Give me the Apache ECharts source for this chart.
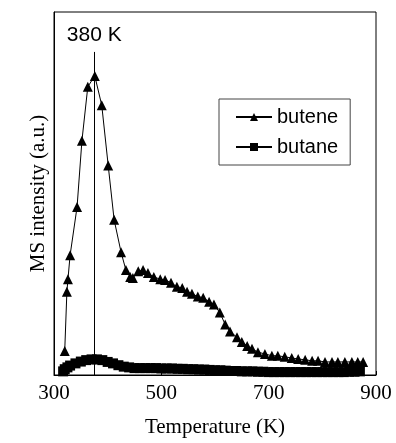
<!DOCTYPE html>
<html>
<head>
<meta charset="utf-8">
<script src="https://cdn.jsdelivr.net/npm/echarts@6/dist/echarts.min.js"></script>
<style>
  html, body { margin: 0; padding: 0; background: #fff; }
  #main { width: 396px; height: 443px; }
</style>
</head>
<body>
<div id="main"></div>
<script>
// temperatures (K) and MS intensity (a.u.)
var buteneT = [320, 324, 326, 330, 343, 352, 363, 376, 389, 401, 412, 425, 434, 442, 447, 457, 466, 475, 486, 498,
  507, 518, 529, 539, 548, 557, 568, 578, 589, 598, 609, 619, 628, 641, 650, 660, 669, 680, 693, 706,
  717, 730, 743, 755, 768, 781, 792, 805, 818, 829, 842, 855, 866, 876];
var buteneI = [6.6, 22.9, 26.4, 33.0, 46.3, 64.5, 79.4, 82.4, 74.3, 57.7, 42.8, 33.8, 28.9, 27.0, 26.7, 28.6, 28.9, 28.1, 27.0, 26.4,
  26.2, 25.4, 24.3, 24.0, 22.9, 22.4, 21.6, 21.3, 20.2, 19.4, 17.2, 13.9, 12.0, 10.4, 9.1, 8.0, 7.2, 6.3, 5.8, 5.3,
  5.3, 5.0, 4.7, 4.4, 4.2, 3.9, 3.9, 3.6, 3.6, 3.6, 3.6, 3.6, 3.6, 3.6];

var butaneT = [317, 320, 325, 330, 340, 350, 360, 370, 380, 390, 400, 410, 420, 430, 440, 450, 460, 470, 480, 490,
  500, 510, 520, 530, 540, 550, 560, 570, 580, 590, 600, 610, 620, 630, 640, 650, 660, 670, 680, 690,
  700, 710, 720, 730, 740, 750, 760, 770, 780, 790, 800, 810, 820, 830, 840, 850, 860, 870];
var butaneI = [1.0, 1.6, 2.1, 2.6, 3.2, 3.7, 4.1, 4.3, 4.3, 4.1, 3.6, 3.2, 2.7, 2.3, 2.1, 1.9, 1.9, 1.9, 1.9, 1.9,
  1.8, 1.8, 1.8, 1.7, 1.7, 1.6, 1.6, 1.5, 1.5, 1.4, 1.3, 1.3, 1.2, 1.1, 1.1, 1.0, 1.0, 1.0, 0.9, 0.9,
  0.8, 0.8, 0.8, 0.8, 0.8, 0.8, 0.8, 0.8, 0.8, 0.8, 0.8, 0.8, 0.8, 0.8, 0.8, 0.9, 0.9, 1.0];

var peakT = 375;        // position of the vertical marker line
var peakLabel = '380 K';
var xTicks = [300, 500, 700, 900];

function pairs(xs, ys) {
  return xs.map(function (x, i) { return [x, ys[i]]; });
}

var chart = echarts.init(document.getElementById('main'));
chart.setOption({
  animation: false,
  backgroundColor: '#fff',
  grid: {
    left: 54, right: 20, top: 12, bottom: 63,
    show: true, borderColor: '#000', borderWidth: 1
  },
  legend: {
    orient: 'vertical',
    left: 219, top: 99,
    padding: [8, 12, 8, 16],
    itemGap: 10,
    itemWidth: 36, itemHeight: 10,
    borderColor: '#444', borderWidth: 1,
    textStyle: { fontFamily: 'Liberation Sans', fontSize: 20, color: '#000' },
    data: ['butene', 'butane']
  },
  xAxis: {
    type: 'value',
    min: 300, max: 900, interval: 200,
    name: 'Temperature (K)',
    nameLocation: 'middle',
    nameGap: 42,
    nameTextStyle: { fontFamily: 'Liberation Serif', fontSize: 21, color: '#000' },
    axisLine: { lineStyle: { color: '#000' } },
    axisTick: { inside: true, length: 4, lineStyle: { color: '#000' } },
    axisLabel: {
      fontFamily: 'Liberation Serif', fontSize: 21, color: '#000', margin: 8,
      formatter: function (v) { return xTicks.indexOf(v) >= 0 ? String(v) : ''; }
    },
    splitLine: { show: false }
  },
  yAxis: {
    type: 'value',
    min: 0, max: 100,
    name: 'MS intensity (a.u.)',
    nameLocation: 'middle',
    nameGap: 5,
    nameTextStyle: { fontFamily: 'Liberation Serif', fontSize: 21, color: '#000' },
    axisLine: { show: true, lineStyle: { color: '#000' } },
    axisTick: { show: false },
    axisLabel: { show: false },
    splitLine: { show: false }
  },
  series: [
    {
      name: 'butene',
      type: 'line',
      data: pairs(buteneT, buteneI),
      symbol: 'triangle',
      symbolSize: 10,
      showAllSymbol: true,
      itemStyle: { color: '#000' },
      lineStyle: { color: '#000', width: 1 },
      z: 3,
      markLine: {
        silent: true,
        symbol: ['none', 'none'],
        lineStyle: { color: '#000', width: 1, type: 'solid' },
        label: {
          show: true, position: 'end', distance: 6,
          formatter: peakLabel,
          fontFamily: 'Liberation Sans', fontSize: 21, color: '#000'
        },
        data: [[{ coord: [peakT, 0] }, { coord: [peakT, 89] }]]
      }
    },
    {
      name: 'butane',
      type: 'line',
      data: pairs(butaneT, butaneI),
      symbol: 'rect',
      symbolSize: 10,
      showAllSymbol: true,
      itemStyle: { color: '#000' },
      lineStyle: { color: '#000', width: 1 },
      z: 2
    }
  ]
});
</script>
</body>
</html>
